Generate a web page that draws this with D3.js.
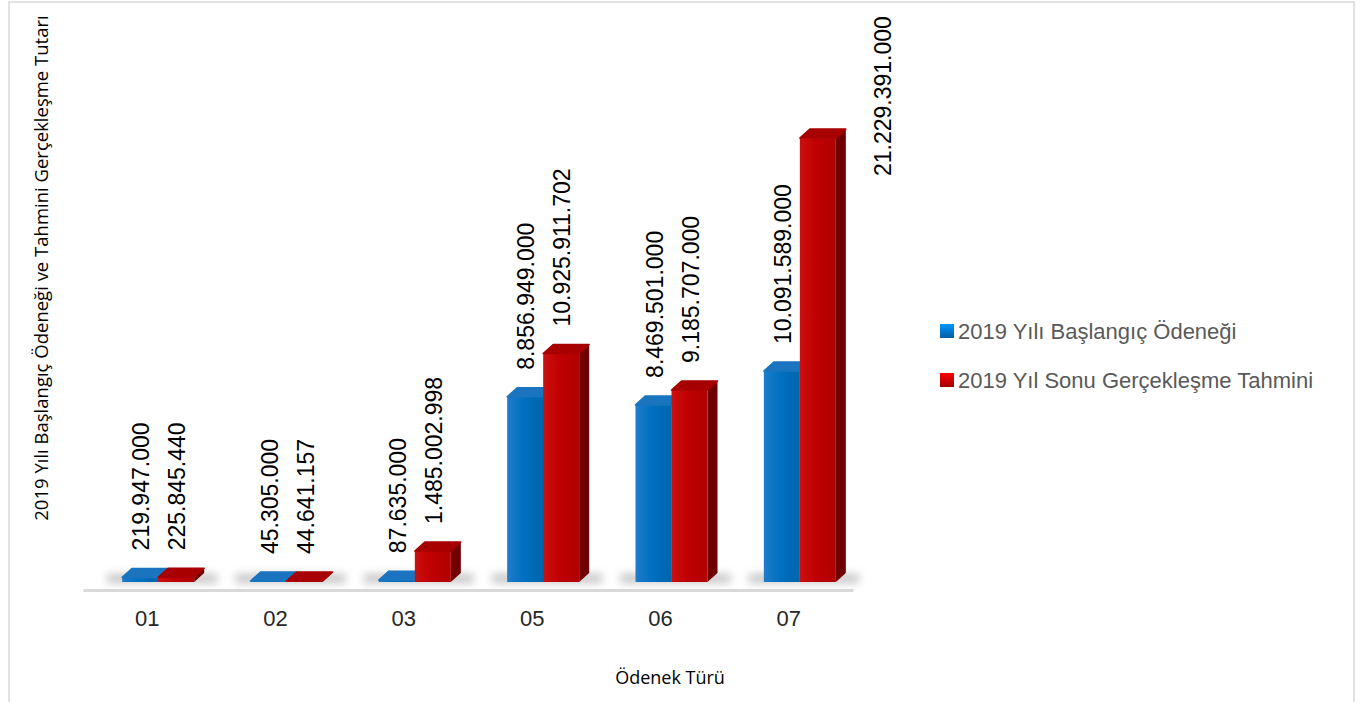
<!DOCTYPE html>
<html>
<head>
<meta charset="utf-8">
<script src="https://cdn.jsdelivr.net/npm/d3@7"></script>
<style>
body { margin: 0; background: #fff; }
svg { display: block; }
</style>
</head>
<body>
<svg width="1362" height="702"></svg>
<script>
// veriler
let categories = ["01", "02", "03", "05", "06", "07"];
let baslangic = [219947000, 45305000, 87635000, 8856949000, 8469501000, 10091589000];
let yilSonu = [225845440, 44641157, 1485002998, 10925911702, 9185707000, 21229391000];
let seriesNames = ["2019 Yılı Başlangıç Ödeneği", "2019 Yıl Sonu Gerçekleşme Tahmini"];

let svg = d3.select("svg"),
	width = +svg.attr("width"),
	height = +svg.attr("height");

let trFormat = d3.formatLocale({ decimal: ",", thousands: ".", grouping: [3], currency: ["", ""] }).format(",.0f");

let colors = [
	{ front: ["#1f7ccb", "#0070c0", "#0064ad"], side: "#00518f", top: "#1a74bf" },
	{ front: ["#cc1010", "#c00000", "#b00000"], side: "#700000", top: "#a80000" }
];

let x = d3.scaleBand().domain(categories).range([83, 853]);
let y = d3.scaleLinear().domain([0, 22e9]).range([582, 122]);

let barW = 36, dx = 10, dy = 9;
let offsets = [-25, 11];

let defs = svg.append("defs");
colors.forEach(function (c, i) {
	let g = defs.append("linearGradient").attr("id", "front" + i);
	g.append("stop").attr("offset", "0%").attr("stop-color", c.front[0]);
	g.append("stop").attr("offset", "45%").attr("stop-color", c.front[1]);
	g.append("stop").attr("offset", "100%").attr("stop-color", c.front[2]);
	let lg = defs.append("linearGradient").attr("id", "leg" + i)
		.attr("x1", 0).attr("y1", 0).attr("x2", 0).attr("y2", 1);
	lg.append("stop").attr("offset", "0%").attr("stop-color", d3.color(c.front[1]).brighter(0.8));
	lg.append("stop").attr("offset", "100%").attr("stop-color", d3.color(c.front[1]).darker(0.5));
});
defs.append("filter").attr("id", "blur")
	.attr("x", "-50%").attr("y", "-200%").attr("width", "200%").attr("height", "500%")
	.append("feGaussianBlur").attr("stdDeviation", 4);

// çerçeve
svg.append("rect")
	.attr("x", 9).attr("y", 2)
	.attr("width", 1345).attr("height", 720)
	.attr("fill", "none")
	.attr("stroke", "#d9d9d9")
	.attr("stroke-width", 1.5);

// zemin gölgeleri
svg.append("g").selectAll("rect")
	.data(categories)
	.enter().append("rect")
	.attr("x", function (d) { return x(d) + x.bandwidth() / 2 - 40; })
	.attr("y", y(0) - 8)
	.attr("width", 110)
	.attr("height", 9)
	.attr("fill", "#8c8c8c")
	.attr("opacity", 0.5)
	.attr("filter", "url(#blur)");

let xAxis = svg.append("g")
	.attr("transform", "translate(0," + (y(0) + 8) + ")")
	.call(d3.axisBottom(x).tickSize(0).tickPadding(20));
xAxis.select(".domain").attr("stroke", "#d9d9d9").attr("stroke-width", 3);
xAxis.selectAll("text")
	.style("font-family", "'Liberation Sans', Arial, sans-serif")
	.style("font-size", "22px")
	.attr("fill", "#262626");

let series = [baslangic, yilSonu];
let bars = [];
categories.forEach(function (c, ci) {
	series.forEach(function (s, si) {
		bars.push({ cat: c, s: si, value: s[ci] });
	});
});

let barG = svg.append("g").attr("class", "bars").selectAll("g")
	.data(bars)
	.enter().append("g");

barG.append("path")
	.attr("fill", function (d) { return colors[d.s].side; })
	.attr("d", function (d) {
		let x0 = x(d.cat) + x.bandwidth() / 2 + offsets[d.s] + barW, y0 = y(d.value), b = y(0);
		return "M" + x0 + "," + b + "L" + x0 + "," + y0 + "L" + (x0 + dx) + "," + (y0 - dy) +
			"L" + (x0 + dx) + "," + (b - dy) + "Z";
	});

barG.append("rect")
	.attr("x", function (d) { return x(d.cat) + x.bandwidth() / 2 + offsets[d.s]; })
	.attr("y", function (d) { return y(d.value); })
	.attr("width", barW)
	.attr("height", function (d) { return y(0) - y(d.value); })
	.attr("fill", function (d) { return "url(#front" + d.s + ")"; });

barG.append("path")
	.attr("fill", function (d) { return colors[d.s].top; })
	.attr("stroke", function (d) { return colors[d.s].top; })
	.attr("stroke-linejoin", "round")
	.attr("stroke-width", 1.5)
	.attr("d", function (d) {
		let x0 = x(d.cat) + x.bandwidth() / 2 + offsets[d.s], y0 = y(d.value);
		return "M" + x0 + "," + y0 + "L" + (x0 + barW) + "," + y0 + "L" + (x0 + barW + dx) + "," + (y0 - dy) +
			"L" + (x0 + dx) + "," + (y0 - dy) + "Z";
	});

// değer etiketleri
let labelSize = 23;
svg.append("g").selectAll("text")
	.data(bars)
	.enter().append("text")
	.attr("transform", function (d) {
		let cx = x(d.cat) + x.bandwidth() / 2 + offsets[d.s] + barW / 2 + 1;
		let yy = y(d.value) - 27;
		let len = trFormat(d.value).length * labelSize * 0.5;
		if (yy - len < 10) { // sığmayan etiket sağa kaydırılır
			cx += 64;
			yy = 15 + len;
		}
		return "translate(" + cx + "," + yy + ") rotate(-90)";
	})
	.attr("dy", "0.36em")
	.style("font-family", "'Liberation Sans', Arial, sans-serif")
	.style("font-size", labelSize + "px")
	.attr("fill", "#000")
	.text(function (d) { return trFormat(d.value); });

// eksen başlıkları
svg.append("text")
	.attr("transform", "translate(42," + 268 + ") rotate(-90)")
	.attr("text-anchor", "middle")
	.attr("dy", "0.35em")
	.style("font-family", "'Open Sans', sans-serif")
	.style("font-size", "18.5px")
	.attr("fill", "#000")
	.text("2019 Yılı Başlangıç Ödeneği ve Tahmini Gerçekleşme Tutarı");

svg.append("text")
	.attr("x", 670)
	.attr("y", 678)
	.attr("text-anchor", "middle")
	.attr("dy", "0.35em")
	.style("font-family", "'Open Sans', sans-serif")
	.style("font-size", "18px")
	.attr("fill", "#000")
	.text("Ödenek Türü");

// lejant
let legend = svg.append("g").selectAll("g")
	.data(seriesNames)
	.enter().append("g")
	.attr("transform", function (d, i) { return "translate(940," + (324 + i * 49) + ")"; });

legend.append("rect")
	.attr("width", 14)
	.attr("height", 14)
	.attr("fill", function (d, i) { return "url(#leg" + i + ")"; });

legend.append("text")
	.attr("x", 18)
	.attr("y", 15)
	.style("font-family", "'Liberation Sans', Arial, sans-serif")
	.style("font-size", "22px")
	.attr("fill", "#595959")
	.text(function (d) { return d; });
</script>
</body>
</html>
